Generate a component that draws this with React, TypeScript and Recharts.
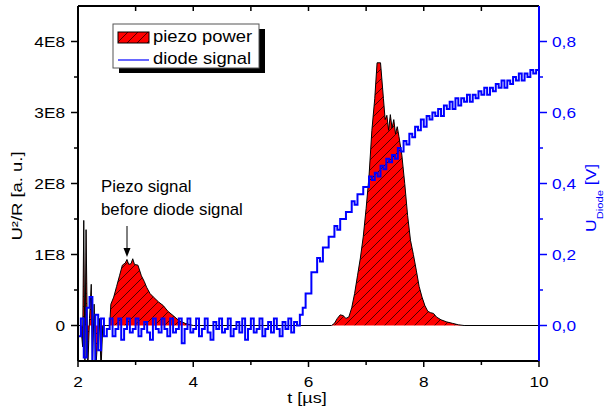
import { ComposedChart, Area, Line, XAxis, YAxis, Customized } from "recharts";

// piezo power, units of 1E8 (a. u.)
const piezoTime = [
  2.0, 2.05, 2.08, 2.1, 2.12, 2.14, 2.17, 2.2, 2.23, 2.25, 2.28, 2.31, 2.34, 2.37, 2.4, 2.43, 2.5,
  2.55, 2.57, 2.62, 2.67, 2.72, 2.77, 2.82, 2.85, 2.88, 2.92, 2.95, 2.98, 3.04, 3.1, 3.15, 3.19,
  3.25, 3.31, 3.4, 3.48, 3.56, 3.65, 3.75, 3.86, 3.95, 4.0, 6.4, 6.45, 6.5, 6.55, 6.6, 6.65, 6.7,
  6.75, 6.8, 6.85, 6.9, 6.95, 7.0, 7.05, 7.1, 7.15, 7.19, 7.25, 7.3, 7.33, 7.36, 7.39, 7.42, 7.45,
  7.48, 7.51, 7.54, 7.57, 7.62, 7.67, 7.72, 7.77, 7.82, 7.87, 7.92, 7.97, 8.02, 8.07, 8.12, 8.17,
  8.22, 8.3, 8.4, 8.5, 8.6, 8.7, 10.0,
];
const piezoPower = [
  0, 0, -0.3, 1.48, -0.5, 1.35, -0.6, 0.1, 0.58, -0.6, 0.3, -0.6, -0.2, 0.1, -0.6, 0, 0,
  0, 0.3, 0.4, 0.55, 0.7, 0.85, 0.88, 0.93, 0.86, 0.87, 0.94, 0.86, 0.85, 0.7, 0.62, 0.54,
  0.45, 0.4, 0.33, 0.28, 0.2, 0.14, 0.07, 0.03, 0.01, 0, 0, 0.03, 0.1, 0.15, 0.14, 0.1, 0.12,
  0.25, 0.45, 0.7, 0.95, 1.25, 1.65, 2.1, 2.75, 3.2, 3.7, 3.7, 3.2, 2.9, 2.96, 2.75, 2.97, 2.78,
  2.9, 2.7, 2.8, 2.66, 2.4, 2.0, 1.55, 1.2, 1.0, 0.78, 0.55, 0.4, 0.28, 0.2, 0.18, 0.17,
  0.12, 0.08, 0.05, 0.03, 0.01, 0, 0,
];

// diode signal [V], sampled from t = 2 µs every 0.05 µs
const diodeStart = 2;
const diodeStep = 0.05;
const diodeSignal = [
  -0.03, 0.02, -0.09, 0.05, 0.08, -0.12, 0.03, -0.07, 0.02, -0.03,
  -0.01, 0.02, -0.03, -0.01, 0.02, -0.04, -0.01, 0.02, -0.02, -0.01,
  0.02, -0.03, -0.01, 0.01, -0.02, -0.04, 0.02, -0.01, -0.02, 0.02,
  -0.01, -0.03, 0.02, -0.02, -0.01, 0.02, -0.05, -0.01, 0.02, -0.02,
  -0.01, 0.02, -0.03, -0.01, 0.02, -0.02, -0.04, 0.01, -0.01, 0.02,
  -0.02, -0.01, 0.02, -0.03, -0.01, 0.01, -0.02, 0.02, -0.04, -0.01,
  0.02, -0.02, -0.01, 0.02, -0.03, -0.01, 0.01, -0.02, 0.02, -0.01,
  -0.03, 0.01, -0.01, 0.02, -0.02, 0.01,
  0.0, 0.03, 0.05, 0.09, 0.09, 0.15, 0.15, 0.19, 0.18, 0.22,
  0.22, 0.25, 0.25, 0.28, 0.27, 0.3, 0.3, 0.32, 0.32, 0.35,
  0.34, 0.37, 0.37, 0.39, 0.39, 0.42, 0.41, 0.43, 0.42, 0.45,
  0.44, 0.47, 0.46, 0.48, 0.47, 0.5, 0.49, 0.52, 0.51, 0.54,
  0.53, 0.56, 0.55, 0.58, 0.56, 0.59, 0.58, 0.6, 0.59, 0.61,
  0.59, 0.62, 0.61, 0.63, 0.61, 0.64, 0.62, 0.64, 0.63, 0.65,
  0.63, 0.65, 0.64, 0.66, 0.65, 0.67, 0.65, 0.67, 0.66, 0.68,
  0.67, 0.69, 0.67, 0.69, 0.68, 0.7, 0.69, 0.71, 0.69, 0.71,
  0.7, 0.72, 0.71, 0.72, 0.71,
];

const xTicks = [2, 3, 4, 5, 6, 7, 8, 9, 10];
const topTicks = [3, 4, 5, 6, 7, 8, 9];
const leftTicks = [0, 0.5, 1, 1.5, 2, 2.5, 3, 3.5, 4];
const rightTicks = [0, 0.1, 0.2, 0.3, 0.4, 0.5, 0.6, 0.7, 0.8];

const piezoData = piezoTime.map((t, i) => ({ t, p: piezoPower[i] }));
const diodeData = diodeSignal.map((u, i) => ({ t: diodeStart + i * diodeStep, u }));

const FONT = "'Liberation Sans', Arial, sans-serif";
const BLUE = "#0000ff";

function T({ x, y, size, sx = 1, rot = 0, anchor = "start", fill = "#000", children }: any) {
  return (
    <text
      transform={`translate(${x},${y}) rotate(${rot}) scale(${sx},1)`}
      fontSize={size}
      fontFamily={FONT}
      textAnchor={anchor}
      fill={fill}
    >
      {children}
    </text>
  );
}

const BottomTick = ({ x, y, payload }: any) => {
  const major = payload.value % 2 === 0;
  return (
    <g>
      <line x1={x} x2={x} y1={y} y2={y + (major ? 6 : 4)} stroke="#000" strokeWidth={1.5} />
      {major && (
        <T x={x} y={y + 26} size={15} sx={1.15} anchor="middle">
          {payload.value}
        </T>
      )}
    </g>
  );
};

const TopTick = ({ x, y }: any) => (
  <line x1={x} x2={x} y1={y} y2={y + 5} stroke="#000" strokeWidth={1.5} />
);

const LeftTick = ({ x, y, payload }: any) => {
  const v = payload.value;
  const major = Number.isInteger(v);
  return (
    <g>
      <line x1={x - (major ? 7 : 4)} x2={x} y1={y} y2={y} stroke="#000" strokeWidth={1.5} />
      {major && (
        <T x={x - 13} y={y + 5.3} size={15} sx={1.15} anchor="end">
          {v === 0 ? "0" : `${v}E8`}
        </T>
      )}
    </g>
  );
};

const RightTick = ({ x, y, payload }: any) => {
  const v = payload.value;
  const major = Math.round(v * 10) % 2 === 0;
  return (
    <g>
      <line x1={x} x2={x + (major ? 8 : 4)} y1={y} y2={y} stroke={BLUE} strokeWidth={1.5} />
      {major && (
        <T x={x + 13} y={y + 5.3} size={15} sx={1.15} fill={BLUE}>
          {v.toFixed(1).replace(".", ",")}
        </T>
      )}
    </g>
  );
};

const HatchDefs = () => (
  <defs>
    <pattern id="hatch" patternUnits="userSpaceOnUse" width={10} height={10}>
      <rect width={10} height={10} fill="#ff0000" />
      <path d="M-2,2 L2,-2 M0,10 L10,0 M8,12 L12,8" stroke="#000" strokeWidth={0.7} />
    </pattern>
  </defs>
);

const Overlay = () => (
  <g>
    {/* legend */}
    <rect x={119} y={29} width={146} height={44} fill="#000" />
    <rect x={113} y={24} width={146} height={44} fill="#fff" stroke="#555" strokeWidth={1} />
    <rect x={118} y={32} width={31} height={11} fill="url(#hatch)" stroke="#000" strokeWidth={1} />
    <line x1={118} x2={149} y1={60} y2={60} stroke={BLUE} strokeWidth={1.2} />
    <T x={153} y={42} size={16} sx={1.15}>piezo power</T>
    <T x={153} y={64} size={16} sx={1.15}>diode signal</T>

    {/* annotations */}
    <T x={101} y={192} size={16} sx={1.05}>Piezo signal</T>
    <T x={101} y={215} size={16} sx={1.05}>before diode signal</T>
    <line x1={127} x2={127} y1={226} y2={250} stroke="#000" strokeWidth={1} />
    <polygon points="123.5,248 130.5,248 127,257" fill="#000" />
    <T x={396} y={259} size={17} sx={1.17} rot={-90} anchor="middle" fill="#fff">
      E=U²/R dt
    </T>

    {/* axis titles */}
    <T x={307} y={403} size={15} sx={1.2} anchor="middle">t [µs]</T>
    <T x={22} y={196} size={15} sx={1.23} rot={-90} anchor="middle">U²/R [a. u.]</T>
    <text transform="translate(596,232) rotate(-90) scale(1.25,1)" fontSize={14} fontFamily={FONT} fill={BLUE}>
      <tspan>U</tspan>
      <tspan fontSize={9} dy={7}>Diode</tspan>
      <tspan dy={-7}> [V]</tspan>
    </text>
  </g>
);

export default function App() {
  return (
    <div style={{ position: "absolute", left: 0, top: 0, width: 605, height: 417, background: "#fff" }}>
      <ComposedChart width={605} height={417} margin={{ top: 5, right: 0, bottom: 0, left: 0 }}>
        <Customized component={<HatchDefs />} />
        <XAxis
          xAxisId="b"
          type="number"
          dataKey="t"
          domain={[2, 10]}
          ticks={xTicks}
          allowDataOverflow
          height={56}
          tickSize={0}
          tickMargin={0}
          tickLine={false}
          axisLine={{ stroke: "#000", strokeWidth: 2 }}
          tick={<BottomTick />}
        />
        <XAxis
          xAxisId="top"
          orientation="top"
          type="number"
          dataKey="t"
          domain={[2, 10]}
          ticks={topTicks}
          allowDataOverflow
          height={1}
          tickSize={0}
          tickMargin={0}
          tickLine={false}
          axisLine={{ stroke: "#000", strokeWidth: 2 }}
          tick={<TopTick />}
        />
        <YAxis
          yAxisId="l"
          type="number"
          domain={[-0.5, 4.5]}
          ticks={leftTicks}
          allowDataOverflow
          width={78}
          tickSize={0}
          tickMargin={0}
          tickLine={false}
          axisLine={{ stroke: "#000", strokeWidth: 2 }}
          tick={<LeftTick />}
        />
        <YAxis
          yAxisId="r"
          orientation="right"
          type="number"
          domain={[-0.1, 0.9]}
          ticks={rightTicks}
          allowDataOverflow
          width={66}
          tickSize={0}
          tickMargin={0}
          tickLine={false}
          axisLine={{ stroke: BLUE, strokeWidth: 2 }}
          tick={<RightTick />}
        />
        <Area
          data={piezoData}
          xAxisId="b"
          yAxisId="l"
          dataKey="p"
          type="linear"
          stroke="#000"
          strokeWidth={1}
          fill="url(#hatch)"
          fillOpacity={1}
          baseValue={0}
          isAnimationActive={false}
          dot={false}
          activeDot={false}
        />
        <Line
          data={diodeData}
          xAxisId="b"
          yAxisId="r"
          dataKey="u"
          type="stepAfter"
          stroke={BLUE}
          strokeWidth={2}
          dot={false}
          activeDot={false}
          isAnimationActive={false}
        />
        <Customized component={<Overlay />} />
      </ComposedChart>
    </div>
  );
}
